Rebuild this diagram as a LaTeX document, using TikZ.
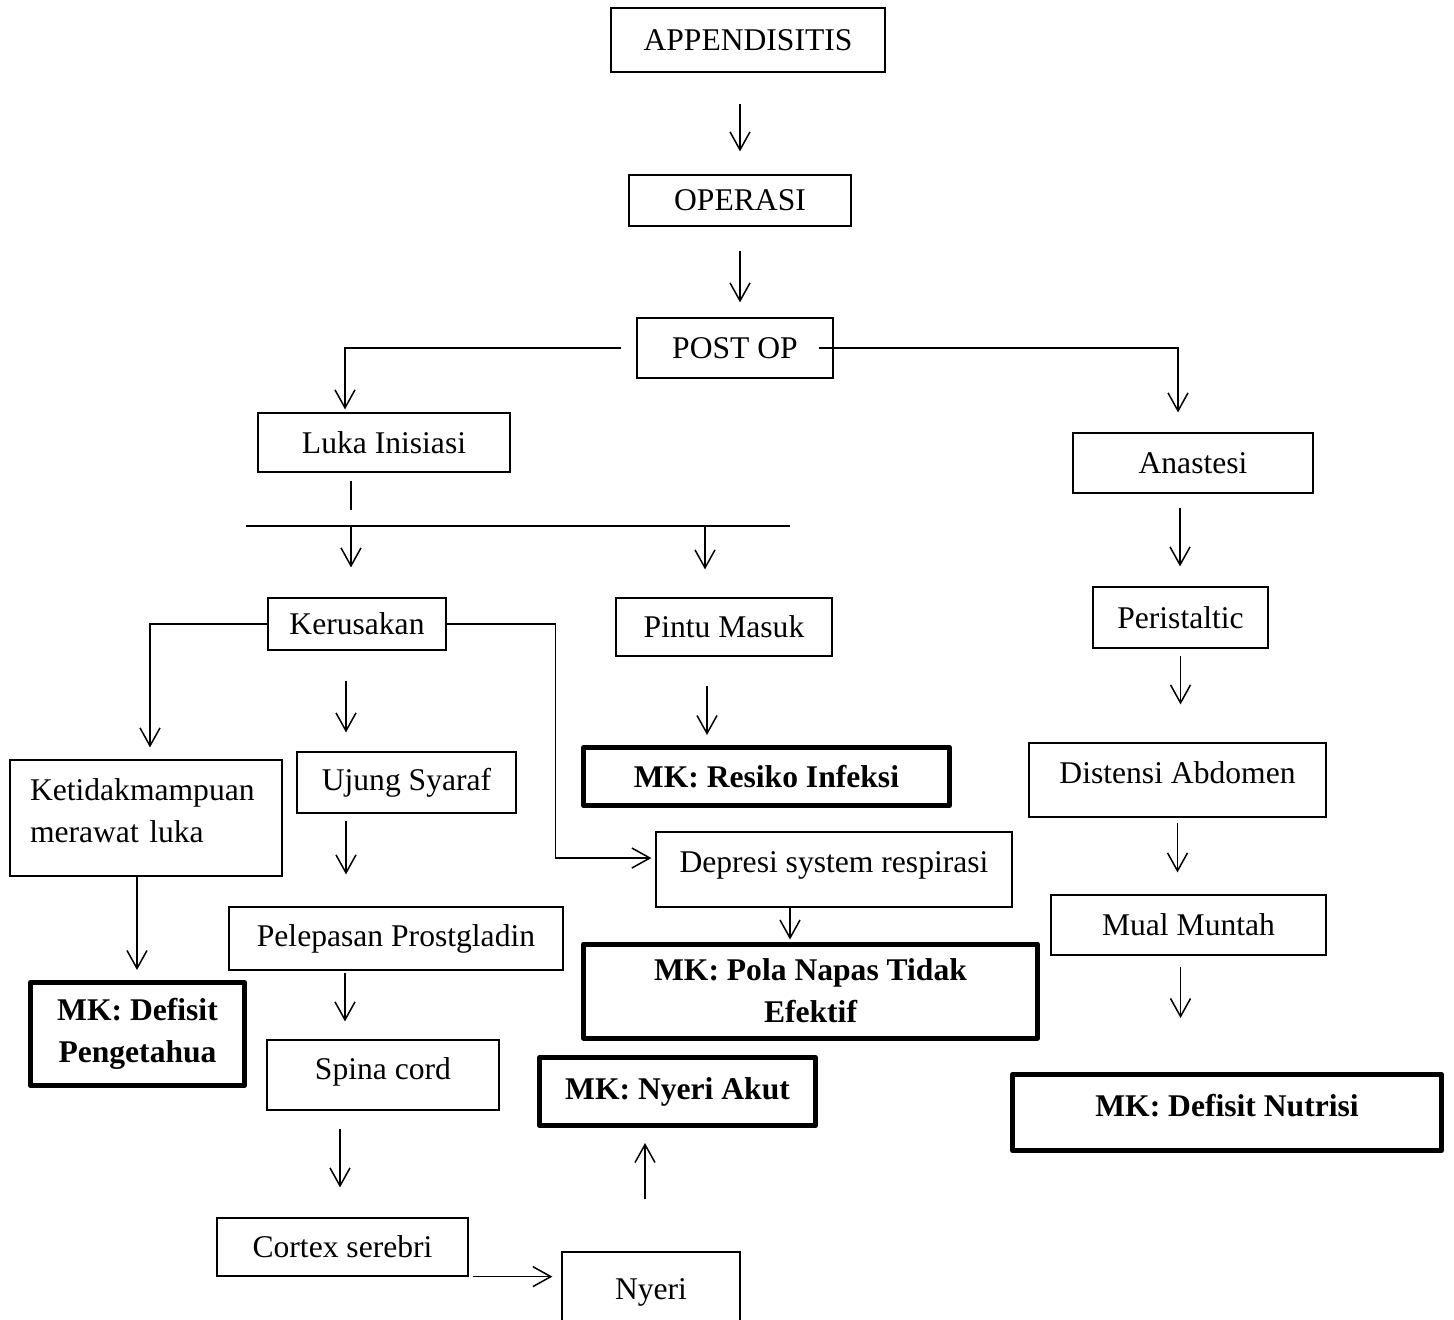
\documentclass[tikz,border=0pt]{standalone}
\usepackage{fontspec}
\setmainfont{Liberation Serif}
\usetikzlibrary{arrows.meta}

\begin{document}
\begin{tikzpicture}[
    x=0.5pt, y=-0.5pt,
    box/.style={rectangle, draw, line width=0.6pt, inner sep=2pt, align=center, font=\fontsize{15.8}{21}\selectfont},
    mkbox/.style={box, line width=2.5pt, line join=round, font=\fontsize{15.8}{21}\selectfont\bfseries},
    arrow/.style={-{Straight Barb[length=9pt,width=10pt]}, line width=0.75pt},
    line/.style={line width=0.75pt}
]
\path[use as bounding box, clip] (0,0) rectangle (1454,1319);

% middle column
\node[box, minimum width=137pt, minimum height=32pt]   (appen)   at (748,40)     {APPENDISITIS};
\node[box, minimum width=111pt, minimum height=25.5pt] (oper)    at (740,200.5)  {OPERASI};
\node[box, minimum width=98pt, minimum height=30pt]    (postop)  at (735,348)    {POST OP};
\node[box, minimum width=126pt, minimum height=29.5pt] (luka)    at (384,442.5)  {Luka Inisiasi};
\node[box, minimum width=89pt, minimum height=26pt]    (kerus)   at (357,624)    {Kerusakan};
\node[box, minimum width=108pt, minimum height=29pt]   (pintu)   at (724,627)    {Pintu Masuk};
\node[mkbox, minimum width=183pt, minimum height=29pt] (infeksi) at (766.5,776.5) {MK: Resiko Infeksi};
\node[box, minimum width=136pt, minimum height=58pt, inner xsep=10pt, text width=116pt, align=left, text depth=28pt] (ketidak) at (146,818) {Ketidakmampuan\\merawat luka};
\node[box, minimum width=109.5pt, minimum height=30.5pt] (ujung)  at (406.5,782.5) {Ujung Syaraf};
\node[box, minimum width=178pt, minimum height=37.5pt, text depth=7pt] (depresi) at (834,869.5) {Depresi system respirasi};
\node[box, minimum width=167pt, minimum height=31.5pt] (pelepas) at (396,938.5)  {Pelepasan Prostgladin};
\node[mkbox, minimum width=227pt, minimum height=47pt] (pola)    at (810.5,991) {MK: Pola Napas Tidak\\Efektif};
\node[mkbox, minimum width=107pt, minimum height=51.5pt] (defpeng) at (137.5,1034) {MK: Defisit\\Pengetahua};
\node[box, minimum width=116pt, minimum height=35pt, text depth=6pt] (spina) at (383,1075) {Spina cord};
\node[mkbox, minimum width=138pt, minimum height=34pt] (akut)    at (677.5,1091.5) {MK: Nyeri Akut};
\node[box, minimum width=125.5pt, minimum height=29pt] (cortex)  at (342.5,1247) {Cortex serebri};
\node[box, minimum width=89pt, minimum height=40pt]    (nyeri)   at (651,1292)   {Nyeri};

% right column
\node[box, minimum width=120pt, minimum height=30pt]   (anast)   at (1193,463)   {Anastesi};
\node[box, minimum width=87.5pt, minimum height=30.5pt] (peris)  at (1180.5,617.5) {Peristaltic};
\node[box, minimum width=148.5pt, minimum height=37pt, text depth=7pt] (distensi) at (1177.5,780) {Distensi Abdomen};
\node[box, minimum width=137.5pt, minimum height=30pt] (mual)    at (1188.5,925) {Mual Muntah};
\node[mkbox, minimum width=214.5pt, minimum height=38pt, text depth=7pt] (nutrisi) at (1227,1112.5) {MK: Defisit Nutrisi};

\coordinate (bus)  at (351,526);
\coordinate (busL) at (246,526);
\coordinate (busR) at (790,526);
\coordinate (busP) at (705,526);

\draw[arrow, shorten <=15.5pt, shorten >=11.5pt] (appen.south -| oper.north) -- (oper.north);
\draw[arrow, shorten <=12pt, shorten >=7.5pt] (oper.south) -- (oper.south |- postop.north);
\draw[arrow, shorten <=7.5pt, shorten >=1.5pt] (postop.west) -| ([xshift=-19.5pt]luka.north);
\draw[arrow, shorten <=-7.5pt, shorten >=10pt] (postop.east) -| ([xshift=-7.5pt]anast.north);

\draw[line, shorten <=4pt, shorten >=8pt] (luka.south -| bus) -- (bus);
\draw[line] (busL) -- (busR);
\draw[arrow, shorten >=15pt] (bus) -- (bus |- kerus.north);
\draw[arrow, shorten >=14pt] (busP) -- (busP |- pintu.north);
\draw[arrow, shorten <=14.5pt, shorten >=5pt] ([xshift=-8.5pt]pintu.south) -- ([xshift=-8.5pt]pintu.south |- infeksi.north);

\draw[arrow, shorten >=6pt] (kerus.west) -| ([xshift=2pt]ketidak.north);
\draw[arrow, shorten <=15pt, shorten >=9.5pt] ([xshift=-5.5pt]kerus.south) -- ([xshift=-5.5pt]kerus.south |- ujung.north);
\draw[arrow, shorten >=2pt] (kerus.east) -- ++(109,0) |- ([yshift=5.75pt]depresi.west);
\draw[arrow, shorten <=3.5pt, shorten >=16pt] ([xshift=-30.25pt]ujung.south) -- ([xshift=-30.25pt]ujung.south |- pelepas.north);
\draw[arrow, shorten >=1pt] ([xshift=-22pt]depresi.south) -- ([xshift=-22pt]depresi.south |- pola.north);
\draw[arrow, shorten >=5pt] ([xshift=-4.5pt]ketidak.south) -- ([xshift=-4.5pt]ketidak.south |- defpeng.north);
\draw[arrow, shorten <=1pt, shorten >=9pt] ([xshift=-25.5pt]pelepas.south) -- ([xshift=-25.5pt]pelepas.south |- spina.north);
\draw[arrow, shorten <=9pt, shorten >=15pt] ([xshift=-21.5pt]spina.south) -- ([xshift=-21.5pt]spina.south |- cortex.north);
\draw[arrow, shorten <=2pt, shorten >=4.5pt] (cortex.south east) -- (cortex.south east -| nyeri.west);
\draw[arrow, shorten <=26pt, shorten >=7.5pt] ([xshift=-3pt]nyeri.north) -- ([xshift=-3pt]nyeri.north |- akut.south);

\draw[arrow, shorten <=7pt, shorten >=10pt] ([xshift=-6.5pt]anast.south) -- ([xshift=-6.5pt]anast.south |- peris.north);
\draw[arrow, shorten <=3.5pt, shorten >=19pt] (peris.south) -- (peris.south |- distensi.north);
\draw[arrow, shorten <=2.5pt, shorten >=11pt] (distensi.south) -- (distensi.south |- mual.north);
\draw[arrow, shorten <=5.5pt, shorten >=27pt] ([xshift=-4pt]mual.south) -- ([xshift=-4pt]mual.south |- nutrisi.north);
\end{tikzpicture}
\end{document}
